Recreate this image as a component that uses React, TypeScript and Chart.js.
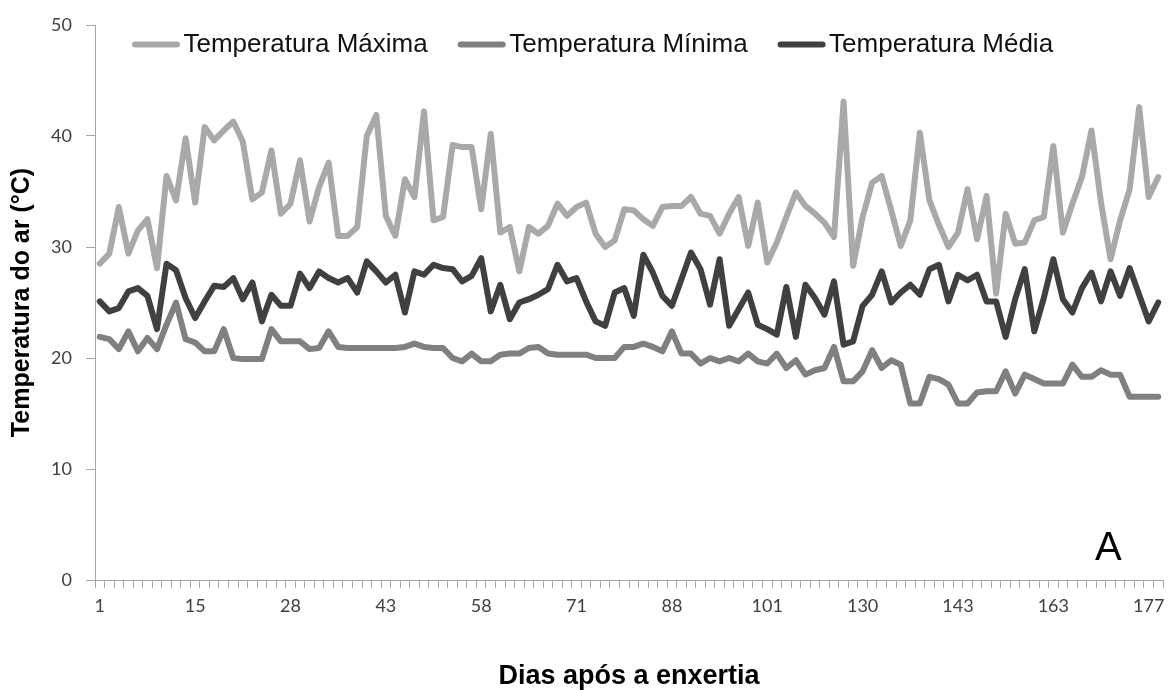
import React, { useEffect, useRef } from "react";
import { Chart, registerables } from "chart.js";

Chart.register(...registerables);

// Day labels shown under every tenth category
const dayTicks = ["1", "15", "28", "43", "58", "71", "88", "101", "130", "143", "163", "177"];

// Air temperature (°C) per sampled day
const maxTemp = [
  28.5, 29.4, 33.6, 29.4, 31.5, 32.5, 28.1, 36.4, 34.2, 39.8,
  34.0, 40.8, 39.6, 40.5, 41.3, 39.5, 34.3, 34.9, 38.7, 33.0,
  33.9, 37.8, 32.3, 35.4, 37.6, 31.0, 31.0, 31.8, 40.0, 41.9,
  32.8, 31.0, 36.1, 34.5, 42.2, 32.4, 32.7, 39.2, 39.0, 39.0,
  33.4, 40.2, 31.3, 31.8, 27.8, 31.8, 31.2, 31.9, 33.9, 32.8,
  33.6, 34.0, 31.2, 30.0, 30.6, 33.4, 33.3, 32.5, 31.9, 33.6,
  33.7, 33.7, 34.5, 33.0, 32.8, 31.2, 33.0, 34.5, 30.1, 34.0,
  28.6, 30.4, 32.7, 34.9, 33.7, 33.0, 32.2, 30.9, 43.1, 28.3,
  32.7, 35.8, 36.4, 33.3, 30.1, 32.4, 40.3, 34.2, 32.0, 30.0,
  31.3, 35.2, 30.7, 34.6, 25.8, 33.0, 30.3, 30.4, 32.4, 32.7,
  39.1, 31.3, 33.9, 36.3, 40.5, 34.0, 28.9, 32.4, 35.2, 42.6,
  34.5, 36.3,
];

const minTemp = [
  21.9, 21.7, 20.8, 22.4, 20.6, 21.8, 20.8, 23.0, 25.0, 21.7,
  21.4, 20.6, 20.6, 22.6, 20.0, 19.9, 19.9, 19.9, 22.6, 21.5,
  21.5, 21.5, 20.8, 20.9, 22.4, 21.0, 20.9, 20.9, 20.9, 20.9,
  20.9, 20.9, 21.0, 21.3, 21.0, 20.9, 20.9, 20.0, 19.7, 20.4,
  19.7, 19.7, 20.3, 20.4, 20.4, 20.9, 21.0, 20.4, 20.3, 20.3,
  20.3, 20.3, 20.0, 20.0, 20.0, 21.0, 21.0, 21.3, 21.0, 20.6,
  22.4, 20.4, 20.4, 19.5, 20.0, 19.7, 20.0, 19.7, 20.4, 19.7,
  19.5, 20.4, 19.1, 19.8, 18.5, 18.9, 19.1, 21.0, 17.9, 17.9,
  18.8, 20.7, 19.1, 19.8, 19.4, 15.9, 15.9, 18.3, 18.1, 17.6,
  15.9, 15.9, 16.9, 17.0, 17.0, 18.8, 16.8, 18.5, 18.1, 17.7,
  17.7, 17.7, 19.4, 18.3, 18.3, 18.9, 18.5, 18.5, 16.5, 16.5,
  16.5, 16.5,
];

const meanTemp = [
  25.1, 24.2, 24.5, 26.0, 26.3, 25.6, 22.6, 28.5, 27.9, 25.4,
  23.6, 25.1, 26.5, 26.4, 27.2, 25.3, 26.8, 23.3, 25.7, 24.7,
  24.7, 27.6, 26.3, 27.8, 27.2, 26.8, 27.2, 25.9, 28.7, 27.8,
  26.8, 27.5, 24.1, 27.8, 27.5, 28.4, 28.1, 28.0, 26.9, 27.4,
  29.0, 24.2, 26.6, 23.5, 25.0, 25.3, 25.7, 26.2, 28.4, 26.9,
  27.2, 25.1, 23.3, 22.9, 25.9, 26.3, 23.8, 29.3, 27.7, 25.6,
  24.7, 27.1, 29.5, 28.0, 24.8, 28.9, 22.9, 24.4, 25.9, 23.0,
  22.6, 22.1, 26.4, 21.9, 26.6, 25.4, 23.9, 26.9, 21.2, 21.5,
  24.7, 25.7, 27.8, 25.0, 25.9, 26.6, 25.7, 28.0, 28.4, 25.1,
  27.5, 27.0, 27.5, 25.1, 25.1, 21.9, 25.3, 28.0, 22.4, 25.4,
  28.9, 25.3, 24.1, 26.3, 27.7, 25.1, 27.8, 25.6, 28.1, 25.7,
  23.3, 25.0,
];

const categories = maxTemp.map((_, i) => (i % 10 === 0 ? dayTicks[i / 10] ?? "" : ""));

const AXIS_GRAY = "#a6a6a6";
const TICK_FONT = { family: "Lato, 'Liberation Sans', sans-serif", size: 18 };
const Y_TITLE_FONT = { family: "'Liberation Sans', Arial, sans-serif", size: 25, weight: "bold" as const };
const X_TITLE_FONT = { family: "'Liberation Sans', Arial, sans-serif", size: 27, weight: "bold" as const, lineHeight: 1 };

// Legend drawn inside the plot area, plus the panel letter
const insideLegend = {
  id: "insideLegend",
  afterDraw(chart: any) {
    const ctx: CanvasRenderingContext2D = chart.ctx;
    ctx.save();
    ctx.font = "26px 'Liberation Sans', Arial, sans-serif";
    ctx.textBaseline = "alphabetic";
    const lineY = 44.5;
    const textY = 52;
    let x = 132;
    chart.data.datasets.forEach((ds: any) => {
      ctx.strokeStyle = ds.borderColor;
      ctx.lineWidth = 6;
      ctx.lineCap = "round";
      ctx.beginPath();
      ctx.moveTo(x + 3, lineY);
      ctx.lineTo(x + 45, lineY);
      ctx.stroke();
      x += 51.5;
      ctx.fillStyle = "#111111";
      ctx.fillText(ds.label, x, textY);
      x += ctx.measureText(ds.label).width + 30;
    });
    ctx.font = "40px 'Liberation Sans', Arial, sans-serif";
    ctx.fillStyle = "#000000";
    ctx.fillText("A", 1095, 560);
    ctx.restore();
  },
};

export default function App() {
  const canvasRef = useRef<HTMLCanvasElement | null>(null);

  useEffect(() => {
    if (!canvasRef.current) return;
    const lineStyle = {
      borderWidth: 6,
      pointRadius: 0,
      pointHoverRadius: 0,
      tension: 0,
      borderCapStyle: "round" as const,
      borderJoinStyle: "round" as const,
      fill: false,
    };
    const chart = new Chart(canvasRef.current, {
      type: "line",
      data: {
        labels: categories,
        datasets: [
          { label: "Temperatura Máxima", data: maxTemp, borderColor: "#a9a9a9", backgroundColor: "#a9a9a9", order: 3, ...lineStyle },
          { label: "Temperatura Mínima", data: minTemp, borderColor: "#808080", backgroundColor: "#808080", order: 2, ...lineStyle },
          { label: "Temperatura Média", data: meanTemp, borderColor: "#404040", backgroundColor: "#404040", order: 1, ...lineStyle },
        ],
      },
      options: {
        responsive: false,
        animation: false,
        layout: { padding: { left: 0, right: 7, top: 25, bottom: 0 } },
        plugins: {
          legend: { display: false },
          tooltip: { enabled: false },
        },
        scales: {
          x: {
            type: "category",
            offset: true,
            grid: { offset: true, drawOnChartArea: false, drawTicks: true, tickLength: 8, color: AXIS_GRAY },
            border: { display: true, color: AXIS_GRAY, width: 1 },
            ticks: {
              autoSkip: false,
              maxRotation: 0,
              minRotation: 0,
              padding: 7,
              color: "#404040",
              font: TICK_FONT,
            },
            title: {
              display: true,
              text: "Dias após a enxertia",
              color: "#000000",
              font: X_TITLE_FONT,
              padding: { top: 0, bottom: 0 },
            },
            afterFit(scale: any) {
              scale.height = 110;
              scale.paddingLeft = 0;
              scale.paddingRight = 0;
            },
          },
          y: {
            min: 0,
            max: 50,
            grid: { drawOnChartArea: false, drawTicks: true, tickLength: 9, color: AXIS_GRAY },
            border: { display: true, color: AXIS_GRAY, width: 1 },
            ticks: {
              stepSize: 10,
              padding: 14,
              color: "#404040",
              font: TICK_FONT,
            },
            title: {
              display: true,
              text: "Temperatura do ar (°C)",
              color: "#000000",
              font: Y_TITLE_FONT,
              padding: { top: 7, bottom: 0 },
            },
            afterFit(scale: any) {
              scale.width = 95;
              scale.paddingTop = 0;
              scale.paddingBottom = 0;
            },
          },
        },
      },
      plugins: [insideLegend],
    });
    return () => chart.destroy();
  }, []);

  return (
    <div style={{ position: "absolute", left: 0, top: 0, width: 1170, height: 690, background: "#ffffff" }}>
      <canvas ref={canvasRef} width={1170} height={690} style={{ display: "block" }} />
    </div>
  );
}
